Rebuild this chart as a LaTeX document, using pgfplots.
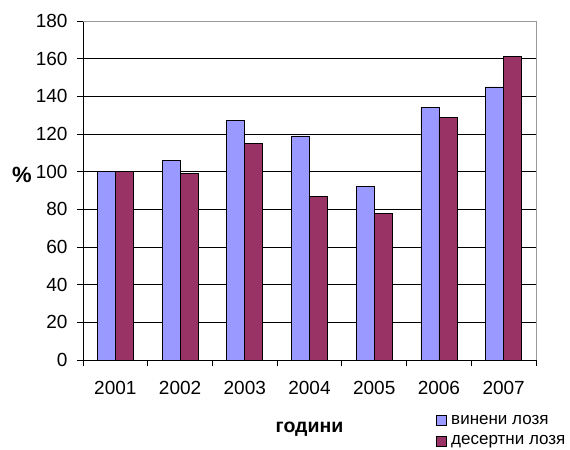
\documentclass[border=0pt]{standalone}
\usepackage{fontspec}
\setmainfont{Liberation Sans}
\usepackage{pgfplots}
\pgfplotsset{compat=1.18}
\definecolor{vin}{HTML}{9999FF}
\definecolor{des}{HTML}{993366}
\begin{document}
\begin{tikzpicture}
\useasboundingbox (-83bp,-90bp) rectangle (487bp,360bp);
\begin{axis}[
  at={(0,0)}, anchor=south west,
  scale only axis, width=453bp, height=339bp,
  clip=false,
  ybar=0pt, bar width=18bp,
  xmin=-0.5, xmax=6.5, ymin=0, ymax=180,
  xtick={-0.5,0.5,1.5,2.5,3.5,4.5,5.5,6.5},
  x tick label as interval,
  xticklabels={2001,2002,2003,2004,2005,2006,2007},
  ytick={0,20,...,180},
  ymajorgrids, grid style={black, line width=0.7bp},
  axis lines=left,
  axis line style={-, black, line width=0.8bp},
  tick align=outside, major tick length=6bp,
  tick style={black, line width=0.8bp},
  tick label style={font=\fontsize{19bp}{22bp}\selectfont},
  xticklabel style={yshift=-12bp},
  yticklabel style={xshift=-6bp},
  /pgf/number format/assume math mode=true,
  xlabel={\textbf{години}},
  xlabel style={font=\fontsize{19.5bp}{22bp}\selectfont, at={(axis description cs:0.5,0)}, anchor=center, yshift=-69bp},
  legend style={at={(rel axis cs:0.778,0)}, anchor=north west, yshift=-53bp, draw=none, fill=none,
    font=\fontsize{17bp}{20bp}\selectfont, row sep=6bp, inner sep=0pt,
    /tikz/every odd column/.append style={column sep=3bp}},
  legend cell align=left,
]
\addplot[fill=vin, draw=black, line width=0.7bp,
  legend image code/.code={\draw[fill=vin, draw=black, line width=0.6bp] (0bp,-5bp) rectangle (10bp,5bp);}]
  coordinates {(0,100) (1,106) (2,127) (3,119) (4,92) (5,134) (6,145)};
\addplot[fill=des, draw=black, line width=0.7bp,
  legend image code/.code={\draw[fill=des, draw=black, line width=0.6bp] (0bp,-5bp) rectangle (10bp,5bp);}]
  coordinates {(0,100) (1,99) (2,115) (3,87) (4,78) (5,129) (6,161)};
\legend{винени лозя, десертни лозя}
\draw[black!40, line width=0.8bp] (rel axis cs:0,1) -- (rel axis cs:1,1) -- (rel axis cs:1,0);
\node[font=\bfseries\fontsize{22bp}{25bp}\selectfont, xshift=-61bp] at (rel axis cs:0,0.545) {\%};
\end{axis}
\end{tikzpicture}
\end{document}
